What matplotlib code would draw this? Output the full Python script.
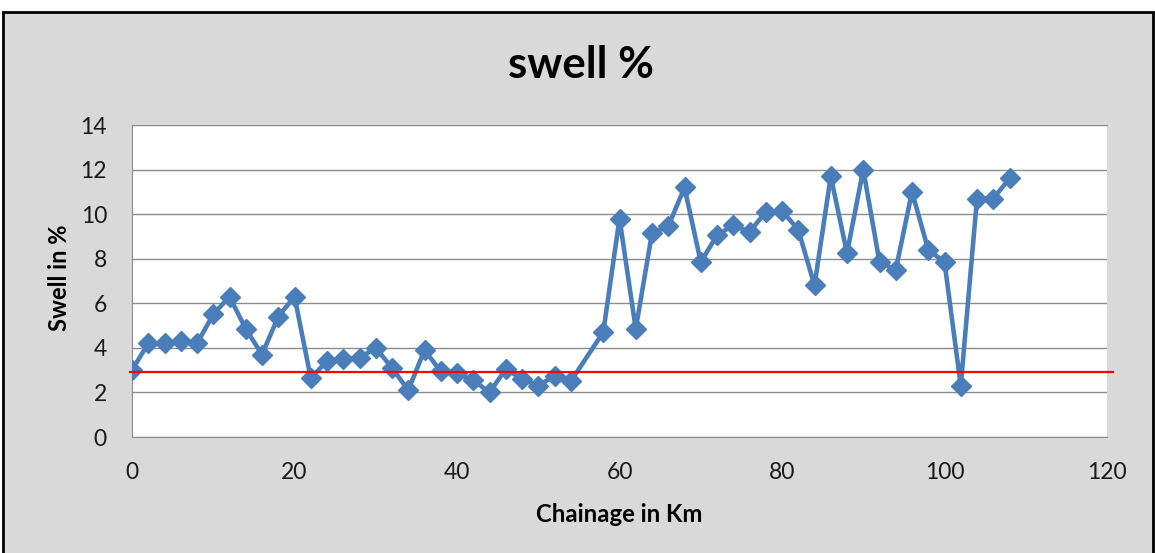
import matplotlib
matplotlib.use("Agg")
import matplotlib.pyplot as plt
from matplotlib.patches import Rectangle

# chainage (km) and measured swell (%)
chainage = [0, 2, 4, 6, 8, 10, 12, 14, 16, 18, 20, 22, 24, 26, 28, 30, 32, 34,
            36, 38, 40, 42, 44, 46, 48, 50, 52, 54, 58, 60, 62, 64, 66, 68,
            70, 72, 74, 76, 78, 80, 82, 84, 86, 88, 90, 92, 94, 96, 98, 100,
            102, 104, 106, 108]
swell = [3.0, 4.2, 4.2, 4.3, 4.2, 5.5, 6.3, 4.85, 3.7, 5.4, 6.3, 2.65, 3.4, 3.5,
         3.55, 4.0, 3.1, 2.1, 3.9, 2.95, 2.85, 2.55, 2.0, 3.05, 2.6, 2.3, 2.75,
         2.5, 4.7, 9.8, 4.85, 9.15, 9.45, 11.2, 7.85, 9.05, 9.5, 9.2, 10.1,
         10.15, 9.3, 6.8, 11.7, 8.25, 12.0, 7.85, 7.5, 11.0, 8.4, 7.85, 2.3,
         10.7, 10.7, 11.6]
threshold = 2.9

x_ticks = [0, 20, 40, 60, 80, 100, 120]
y_ticks = [0, 2, 4, 6, 8, 10, 12, 14]

plt.rcParams["font.family"] = ["Lato", "DejaVu Sans"]

W, H = 1155, 553
fig = plt.figure(figsize=(W / 100, H / 100), dpi=100, facecolor="white")

# grey chart area with black frame
fig.patches.append(Rectangle((3 / W, -0.02), 1150 / W, 1.02 - 12 / H,
                             transform=fig.transFigure, facecolor="#d9d9d9",
                             edgecolor="black", linewidth=2, zorder=-1))

ax = fig.add_axes([132 / W, 1 - 437 / H, 975 / W, 312 / H])
ax.set_zorder(2)
ax.set_facecolor("white")

ax.plot(chainage, swell, color="#4a7ebb", linewidth=3.3, marker="D",
        markersize=10, markeredgecolor="#4a7ebb", zorder=3)
ax.axhline(threshold, xmin=-0.002, xmax=1.006, color="red", linewidth=1.6,
           clip_on=False, zorder=4)

ax.set_xlim(0, 120)
ax.set_ylim(0, 14)
ax.set_xticks(x_ticks)
ax.set_yticks(y_ticks)
ax.yaxis.grid(True, color="#8c8c8c", linewidth=1.0)
ax.set_axisbelow(True)
for s in ax.spines.values():
    s.set_color("#8c8c8c")
ax.spines["right"].set_visible(False)
ax.tick_params(axis="x", length=0, pad=18, labelsize=16.5, colors="#1a1a1a")
ax.tick_params(axis="y", length=0, pad=18, labelsize=16.5, colors="#1a1a1a")

fig.text(0.5 * (132 + 1107) / W, 1 - 522 / H, "Chainage in Km", ha="center",
         va="baseline", fontsize=17.2, fontweight="bold")
fig.text(67 / W, 1 - 278 / H, "Swell in %", rotation=90, rotation_mode="anchor",
         ha="center", va="baseline", fontsize=17, fontweight="bold")
fig.text(581 / W, 1 - 78 / H, "swell %", ha="center", va="baseline",
         fontsize=31.5, fontweight="bold", zorder=3)

fig.savefig("out.png", dpi=100, facecolor=fig.get_facecolor())
